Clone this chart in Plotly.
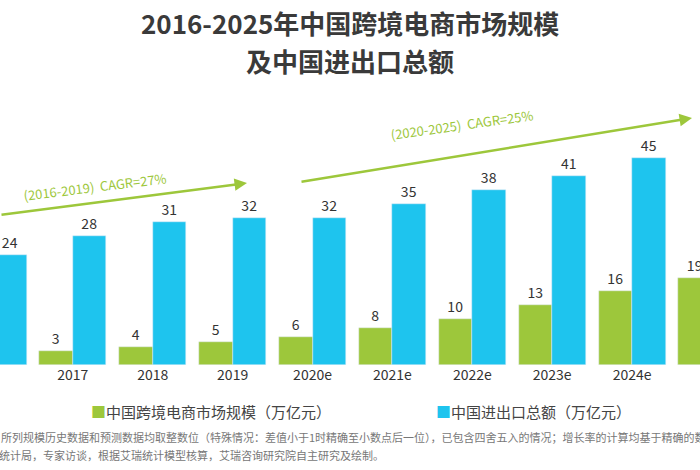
import plotly.graph_objects as go

years = ["2016", "2017", "2018", "2019", "2020e", "2021e", "2022e", "2023e", "2024e", "2025e"]
ecommerce = [2, 3, 4, 5, 6, 8, 10, 13, 16, 19]
trade = [24, 28, 31, 32, 32, 35, 38, 41, 45, 48]
xs = list(range(len(years)))
names = ["中国跨境电商市场规模（万亿元）", "中国进出口总额（万亿元）"]

GREEN = "#9DC73B"
BLUE = "#1EC4EE"
FONT = "Noto Sans CJK SC"

fig = go.Figure()
fig.add_bar(x=xs, y=ecommerce, name=names[0], marker_color=GREEN,
            width=0.42, offset=-0.42, text=ecommerce, textposition="outside",
            textfont=dict(size=14, color="#333"), cliponaxis=False)
fig.add_bar(x=xs, y=trade, name=names[1], marker_color=BLUE,
            width=0.42, offset=0.0, text=trade, textposition="outside",
            textfont=dict(size=14, color="#333"), cliponaxis=False)

def px(x): return x / 700
def py(y): return (365 - y) / 265

ann = [
    dict(text="<b>2016-2025年中国跨境电商市场规模</b>", x=0.5, y=py(22), font=dict(size=26, color="#3a3a3a")),
    dict(text="<b>及中国进出口总额</b>", x=0.5, y=py(60), font=dict(size=26, color="#3a3a3a")),
]
for a in ann:
    a.update(xref="paper", yref="paper", showarrow=False, xanchor="center", yanchor="middle")

ann += [
    dict(x=px(247), y=py(183), ax=-250, ay=32, xref="paper", yref="paper", showarrow=True,
         arrowhead=2, arrowsize=1, arrowwidth=2.5, arrowcolor=GREEN, text=""),
    dict(x=px(692), y=py(118), ax=-392, ay=64, xref="paper", yref="paper", showarrow=True,
         arrowhead=2, arrowsize=1, arrowwidth=2.5, arrowcolor=GREEN, text=""),
    dict(x=px(95), y=py(186), xref="paper", yref="paper", showarrow=False, textangle=-7,
         xanchor="center", yanchor="middle",
         text="(2016-2019)  CAGR=27%", font=dict(size=13, color=GREEN)),
    dict(x=px(462), y=py(124), xref="paper", yref="paper", showarrow=False, textangle=-8,
         xanchor="center", yanchor="middle",
         text="(2020-2025)  CAGR=25%", font=dict(size=13, color=GREEN)),
    dict(x=0, y=py(437), xref="paper", yref="paper", showarrow=False, xanchor="left", yanchor="middle",
         xshift=-34, font=dict(size=11, color="#777"),
         text="注释：所列规模历史数据和预测数据均取整数位（特殊情况：差值小于1时精确至小数点后一位），已包含四舍五入的情况；增长率的计算均基于精确的数值进行计算。"),
    dict(x=0, y=py(455), xref="paper", yref="paper", showarrow=False, xanchor="left", yanchor="middle",
         xshift=-58, font=dict(size=11, color="#777"),
         text="来源：国家统计局，专家访谈，根据艾瑞统计模型核算，艾瑞咨询研究院自主研究及绘制。"),
]
for lx, color, name in [(89, GREEN, names[0]), (434, BLUE, names[1])]:
    ann.append(dict(x=px(lx), y=py(411), xref="paper", yref="paper", showarrow=False,
                    xanchor="left", yanchor="middle",
                    text=f"<span style='color:{color}'>■</span>{name}",
                    font=dict(size=15, color="#444")))

fig.update_layout(
    width=700, height=470, margin=dict(l=0, r=0, t=100, b=105, autoexpand=False),
    paper_bgcolor="white", plot_bgcolor="white",
    font=dict(family=FONT, color="#333"),
    barmode="overlay", bargap=0,
    showlegend=False,
    annotations=ann,
    xaxis=dict(range=[0.088, 8.85], tickmode="array", tickvals=xs, ticktext=years,
               showgrid=False, showline=False, ticks="", tickfont=dict(size=14, color="#333"),
               zeroline=False),
    yaxis=dict(range=[0, 57.6], visible=False),
)
fig.write_html("out.html", config={"displayModeBar": False},
               post_script="document.body.style.margin='0';")
